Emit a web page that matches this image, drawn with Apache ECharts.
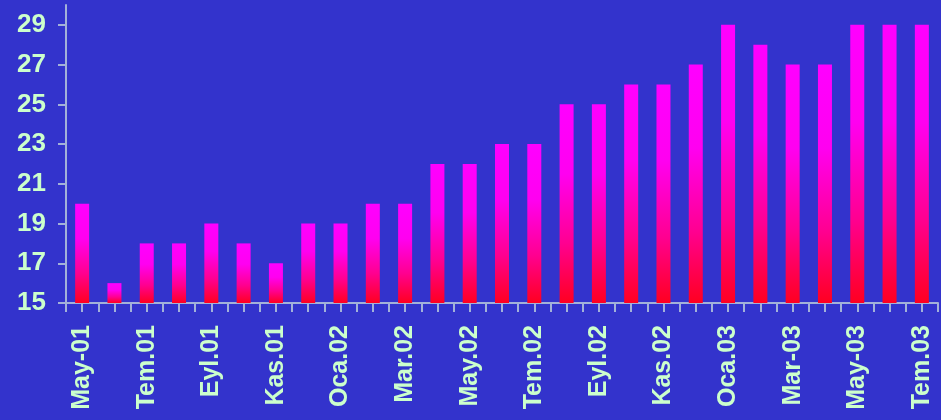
<!DOCTYPE html>
<html>
<head>
<meta charset="utf-8">
<script src="https://cdn.jsdelivr.net/npm/echarts@6/dist/echarts.min.js"></script>
<style>
html,body{margin:0;padding:0;background:#3333CC;}
#chart{width:941px;height:420px;}
</style>
</head>
<body>
<div id="chart"></div>
<script>
var categories = ["May-01","Haz.01","Tem.01","Ağu.01","Eyl.01","Eki.01","Kas.01","Ara.01","Oca.02","Şub.02","Mar.02","Nis.02","May.02","Haz.02","Tem.02","Ağu.02","Eyl.02","Eki.02","Kas.02","Ara.02","Oca.03","Şub.03","Mar-03","Nis.03","May-03","Haz.03","Tem.03"];
var values = [20,16,18,18,19,18,17,19,19,20,20,22,22,23,23,25,25,26,26,27,29,28,27,27,29,29,29];
var yTicks = [15,17,19,21,23,25,27,29];

var axisColor = '#A3B1D9';
var labelColor = '#CCFFCC';
var chart = echarts.init(document.getElementById('chart'), null, {renderer:'canvas'});
chart.setOption({
  backgroundColor: '#3333CC',
  animation: false,
  grid: {left: 66, right: 3, top: 5, bottom: 117, containLabel: false},
  xAxis: [{
    type: 'category',
    data: categories,
    boundaryGap: true,
    axisLine: {lineStyle: {color: axisColor, width: 2}},
    axisTick: {show: true, alignWithLabel: false, interval: 0, length: 9, lineStyle: {color: axisColor, width: 2}},
    axisLabel: {
      interval: 1, rotate: 90, margin: 22,
      color: labelColor, fontFamily: 'Liberation Sans, Arial, sans-serif',
      fontWeight: 'bold', fontSize: 25
    }
  }, {
    type: 'category',
    data: categories,
    position: 'bottom',
    boundaryGap: true,
    axisLine: {show: false},
    axisTick: {show: true, alignWithLabel: true, interval: 0, length: 9, lineStyle: {color: axisColor, width: 2}},
    axisLabel: {show: false}
  }],
  yAxis: {
    type: 'value',
    min: 15, max: 30,
    splitLine: {show: false},
    axisLine: {show: true, lineStyle: {color: axisColor, width: 2}},
    axisTick: {show: true, length: 8, customValues: yTicks, lineStyle: {color: axisColor, width: 2}},
    axisLabel: {
      customValues: yTicks, margin: 20,
      color: labelColor, fontFamily: 'Liberation Sans, Arial, sans-serif',
      fontWeight: 'bold', fontSize: 26
    }
  },
  series: [{
    type: 'bar',
    data: values,
    barWidth: 14,
    itemStyle: {
      color: new echarts.graphic.LinearGradient(0, 0, 0, 1, [
        {offset: 0, color: '#FF00FF'},
        {offset: 0.35, color: '#FF00F0'},
        {offset: 0.7, color: '#FF0090'},
        {offset: 1, color: '#FF0020'}
      ])
    }
  }]
});
</script>
</body>
</html>
